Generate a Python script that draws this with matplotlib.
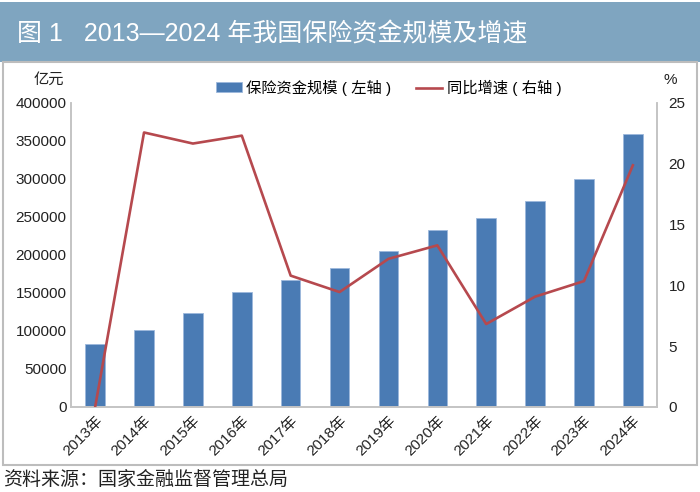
import matplotlib
matplotlib.use('Agg')
import matplotlib.pyplot as plt
from matplotlib.patches import Rectangle

plt.rcParams['font.family'] = ['Liberation Sans', 'Noto Sans CJK SC', 'DejaVu Sans']

# data
years = ['2013年', '2014年', '2015年', '2016年', '2017年', '2018年',
         '2019年', '2020年', '2021年', '2022年', '2023年', '2024年']
scale = [82887, 101591, 123598, 151169, 167489, 183309,
         205645, 232984, 248874, 271467, 299573, 359100]
growth = [0, 22.57, 21.66, 22.31, 10.80, 9.45,
          12.18, 13.29, 6.82, 9.07, 10.35, 19.87]

bar_color = '#4a7bb4'
line_color = '#b6494e'
spine_color = '#c4c4c4'

fig = plt.figure(figsize=(7, 4.92), dpi=100)

# title band and outer frame (behind the axes)
fig.patches.append(Rectangle((0, 0.874), 1, 0.122, transform=fig.transFigure,
                             facecolor='#7fa5c0', edgecolor='none', zorder=-2))
fig.patches.append(Rectangle((0.004, 0.055), 0.992, 0.819, transform=fig.transFigure,
                             facecolor='white', edgecolor='#bdbdbd', linewidth=1.5,
                             zorder=-2))
fig.text(0.024, 0.929, '图 1   2013—2024 年我国保险资金规模及增速', color='white',
         fontsize=18, va='center', ha='left')
fig.text(0.004, 0.024, '资料来源：国家金融监督管理总局', fontsize=13.7,
         va='center', ha='left', color='#222222')

ax = fig.add_axes([0.101, 0.1728, 0.838, 0.618])
ax.patch.set_alpha(0)
x = range(len(years))
bars = ax.bar(x, scale, width=0.4, color=bar_color, edgecolor='#9cb8dc',
              linewidth=0.6, label='保险资金规模（左轴）', zorder=2)
ax.set_ylim(0, 400000)
ax.set_xlim(-0.5, len(years) - 0.5)
ax.set_yticks(range(0, 400001, 50000))
ax.set_xticks(list(x))
ax.set_xticklabels(years, rotation=45, ha='right', va='top', rotation_mode='anchor')
ax.tick_params(axis='both', length=0, labelsize=11, colors='#222222', pad=3)
ax.tick_params(axis='x', pad=5)

ax2 = ax.twinx()
line, = ax2.plot(list(x), growth, color=line_color, linewidth=1.9,
                 label='同比增速（右轴）', zorder=3)
ax2.set_ylim(0, 25)
ax2.set_yticks(range(0, 26, 5))
ax2.tick_params(axis='y', length=0, labelsize=11, colors='#222222', pad=8)

for a in (ax, ax2):
    a.spines['top'].set_visible(False)
    for s in ('left', 'right', 'bottom'):
        a.spines[s].set_color(spine_color)
        a.spines[s].set_linewidth(1.2)

fig.text(0.091, 0.838, '亿元', fontsize=11, ha='right', va='center', color='#222222')
fig.text(0.957, 0.838, '%', fontsize=11, ha='center', va='center', color='#222222')

fig.legend([bars, line], ['保险资金规模 ( 左轴 )', '同比增速 ( 右轴 )'],
           loc='center', bbox_to_anchor=(0.555, 0.822), ncol=2, frameon=False,
           fontsize=11, handlelength=1.7, handleheight=0.6, columnspacing=1.6,
           handletextpad=0.3)

fig.savefig('out.png', dpi=100)
